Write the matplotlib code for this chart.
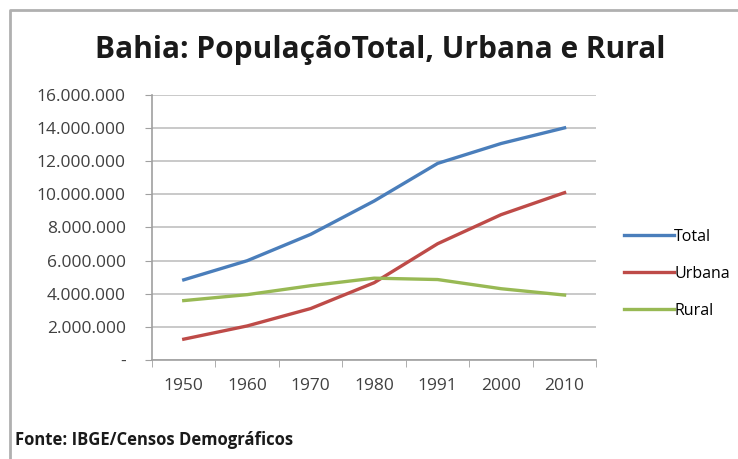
import numpy as np
import matplotlib.pyplot as plt
from matplotlib.lines import Line2D

anos = ['1950', '1960', '1970', '1980', '1991', '2000', '2010']
total = [4834575, 5990605, 7583140, 9597393, 11868991, 13070250, 14016906]
urbana = [1250000, 2050000, 3100000, 4660000, 7016000, 8772000, 10102000]
rural = [3580000, 3940000, 4480000, 4935000, 4852000, 4298000, 3914000]

plt.rcParams['font.family'] = ['Open Sans', 'DejaVu Sans']

fig = plt.figure(figsize=(7.38, 4.59), dpi=100)
# moldura (so topo e esquerda aparecem)
fig.lines.append(Line2D([10 / 738, 10 / 738, 1], [0, 1 - 10 / 459, 1 - 10 / 459],
                        transform=fig.transFigure, color='#b0b0b0', linewidth=2))

ax = fig.add_axes([0.206, 0.216, 0.602, 0.577])
x = np.arange(len(anos))
ax.plot(x, total, color='#4a7ebb', linewidth=2.4, label='Total')
ax.plot(x, urbana, color='#be4b48', linewidth=2.4, label='Urbana')
ax.plot(x, rural, color='#98b954', linewidth=2.4, label='Rural')

ax.set_xlim(-0.5, len(anos) - 0.5)
ax.set_ylim(0, 16000000)
yt = np.arange(0, 16000001, 2000000)
ax.set_yticks(yt)
ax.set_yticklabels(['-'] + [f'{v:,}'.replace(',', '.') for v in yt[1:]])
ax.set_xticks(x)
ax.set_xticklabels(anos)
ax.set_xticks(np.arange(-0.5, len(anos)), minor=True)
ax.tick_params(axis='x', which='major', length=0, pad=13)
ax.tick_params(axis='x', which='minor', length=5, color='#a0a0a0', direction='out')
ax.tick_params(axis='y', length=5, color='#a0a0a0', direction='out', pad=14)
ax.tick_params(labelsize=12.5, labelcolor='#404040')
ax.grid(axis='y', color='#c0c0c0', linewidth=1.2)
ax.set_axisbelow(True)
for s in ['top', 'right']:
    ax.spines[s].set_visible(False)
for s in ['left', 'bottom']:
    ax.spines[s].set_color('#a0a0a0')
    ax.spines[s].set_linewidth(1.2)

ax.legend(loc='center left', bbox_to_anchor=(1.03, 0.325), frameon=False, fontsize=11.5,
          handlelength=3.1, handletextpad=0.05, labelspacing=1.3)

fig.text(0.515, 0.89, 'Bahia: PopulaçãoTotal, Urbana e Rural', ha='center', va='center',
         fontsize=21.5, fontweight='bold', color='#1a1a1a')
fig.text(0.021, 0.042, 'Fonte: IBGE/Censos Demográficos', ha='left', va='center',
         fontsize=12, fontweight='bold', color='#1a1a1a')

fig.savefig('out.png', dpi=100)
